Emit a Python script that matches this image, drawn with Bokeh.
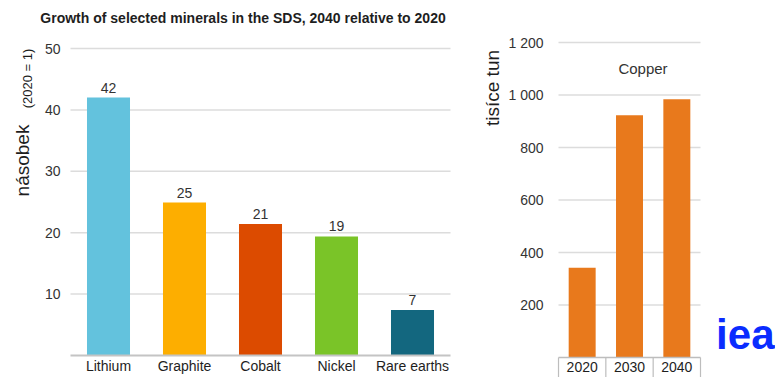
import math
from bokeh.plotting import figure
from bokeh.models import Range1d
from bokeh.embed import file_html
from bokeh.resources import INLINE
from bokeh.core.properties import value

# ---------------- data ----------------
categories = ["Lithium", "Graphite", "Cobalt", "Nickel", "Rare earths"]
growth = [42.0, 24.9, 21.4, 19.4, 7.4]
growth_labels = ["42", "25", "21", "19", "7"]
mineral_colors = ["#63c2dd", "#fdae00", "#dc4b00", "#7ac428", "#13677f"]
left_ticks = [10, 20, 30, 40, 50]
left_tick_labels = ["10", "20", "30", "40", "50"]

years = ["2020", "2030", "2040"]
copper = [342, 923, 984]
right_ticks = [200, 400, 600, 800, 1000, 1200]
right_tick_labels = ["200", "400", "600", "800", "1 000", "1 200"]

FONT = value("Liberation Sans")
TXT = "#333333"
DARK = "#1e1e1e"
GRID = "#dcdcdc"

# One canvas; the left chart uses the default ranges, the copper chart uses extra ranges.
p = figure(width=775, height=377, output_backend="svg", toolbar_location=None,
           x_range=Range1d(-0.92105, 9.2763), y_range=Range1d(-3.583, 57.818),
           x_axis_location=None, y_axis_location=None,
           min_border=0, min_border_left=0, min_border_right=0,
           min_border_top=0, min_border_bottom=0)
p.extra_x_ranges = {"cx": Range1d(-11.789, 4.5845)}
p.extra_y_ranges = {"cy": Range1d(-76.19, 1360)}
p.outline_line_color = None
p.grid.visible = False
p.background_fill_color = "white"
p.border_fill_color = "white"

# ---------------- left chart ----------------
n = len(categories)
lx = [i + 0.5 for i in range(n)]
# gridlines
p.segment(x0=[0] * len(left_ticks), y0=left_ticks, x1=[n] * len(left_ticks), y1=left_ticks,
          line_color=GRID, line_width=1.5)
p.vbar(x=lx, top=growth, bottom=0, width=0.566, color=mineral_colors, line_color=None)
# baseline
p.segment(x0=[0], y0=[0], x1=[n], y1=[0], line_color="#c4c4c4", line_width=2)
# value labels
p.text(x=lx, y=growth, text=growth_labels, y_offset=-5,
       text_align="center", text_baseline="bottom", text_font_size="14px",
       text_font=FONT, text_color=TXT)
# category labels
p.text(x=lx, y=[-1.79] * n, text=categories,
       text_align="center", text_baseline="middle", text_font_size="14px",
       text_font=FONT, text_color=DARK)
# y tick labels
p.text(x=[-0.13] * len(left_ticks), y=left_ticks, text=left_tick_labels,
       text_align="right", text_baseline="middle", text_font_size="14px",
       text_font=FONT, text_color=TXT)
# title and axis title
p.text(x=[2.27], y=[54.89], text=["Growth of selected minerals in the SDS, 2040 relative to 2020"],
       text_align="center", text_baseline="middle", text_font_size="14px",
       text_font_style="bold", text_font=FONT, text_color=DARK)
p.text(x=[-0.632], y=[31.76], text=["násobek"], angle=math.pi / 2,
       text_align="center", text_baseline="middle", text_font_size="19px",
       text_font=FONT, text_color=DARK)
p.text(x=[-0.566], y=[45.11], text=["(2020 = 1)"], angle=math.pi / 2,
       text_align="center", text_baseline="middle", text_font_size="13px",
       text_font=FONT, text_color=DARK)

# ---------------- right chart (copper) ----------------
m = len(years)
rx = [i + 0.5 for i in range(m)]
R = dict(x_range_name="cx", y_range_name="cy")
p.segment(x0=[0] * len(right_ticks), y0=right_ticks, x1=[m] * len(right_ticks), y1=right_ticks,
          line_color=GRID, line_width=1.5, **R)
p.vbar(x=rx, top=copper, bottom=0, width=0.57, color="#e8791c", line_color=None, **R)
# category boxes
box_x = list(range(m + 1))
p.segment(x0=box_x, y0=[-80] * len(box_x), x1=box_x, y1=[0] * len(box_x),
          line_color="#bdbdbd", line_width=1.2, **R)
p.segment(x0=[0], y0=[0], x1=[m], y1=[0], line_color="#bdbdbd", line_width=1.5, **R)
p.text(x=rx, y=[-38] * m, text=years, text_align="center", text_baseline="middle",
       text_font_size="14px", text_font=FONT, text_color=DARK, **R)
p.text(x=[1.785], y=[1101], text=["Copper"], text_align="center", text_baseline="middle",
       text_font_size="15px", text_font=FONT, text_color=TXT, **R)
p.text(x=[-0.317] * len(right_ticks), y=right_ticks, text=right_tick_labels,
       text_align="right", text_baseline="middle", text_font_size="14px",
       text_font=FONT, text_color=TXT, **R)
p.text(x=[-1.394], y=[1026.7], text=["tisíce tun"], angle=math.pi / 2,
       text_align="center", text_baseline="middle", text_font_size="19px",
       text_font=FONT, text_color=DARK, **R)
# IEA logo
p.text(x=[3.33], y=[87], text=["iea"], text_align="left", text_baseline="alphabetic",
       text_font_size="42px", text_font_style="bold", text_font=FONT,
       text_color="#0a2cff", **R)

open("out.html", "w").write(file_html(p, INLINE))
